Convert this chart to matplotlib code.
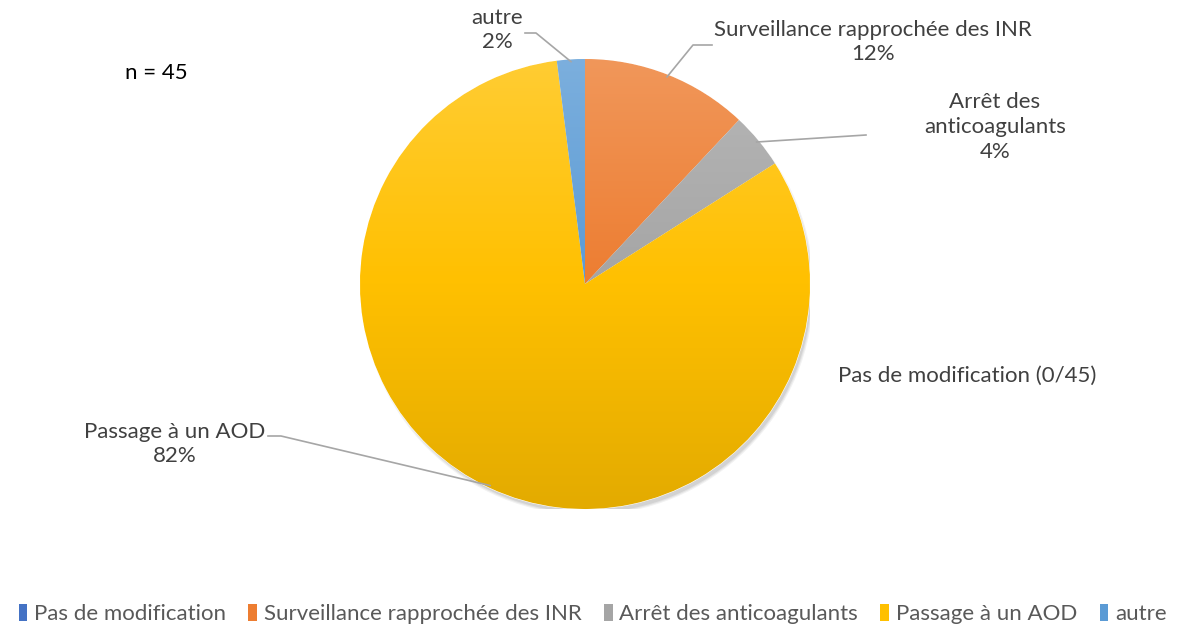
import numpy as np
import matplotlib
matplotlib.use("Agg")
import matplotlib.pyplot as plt
from matplotlib.patches import Patch, Circle
from matplotlib.colors import to_rgb

plt.rcParams['font.family'] = ['Lato', 'DejaVu Sans']

categories = ["Pas de modification", "Surveillance rapprochée des INR",
              "Arrêt des anticoagulants", "Passage à un AOD", "autre"]
percents = [0, 12, 4, 82, 2]
slice_labels = ["Pas de modification (0/45)", "Surveillance rapprochée des INR\n12%",
                "Arrêt des\nanticoagulants\n4%", "Passage à un AOD\n82%", "autre\n2%"]
colors = ["#4472C4", "#ED7D31", "#A5A5A5", "#FFC000", "#5B9BD5"]
n_text = "n = 45"

W, H = 1183, 629
fig = plt.figure(figsize=(W / 100, H / 100), dpi=100)
fig.patch.set_facecolor("white")

cx, cy, R = 585, 284, 225
ax = fig.add_axes([(cx - R) / W, (H - cy - R) / H, 2 * R / W, 2 * R / H])

def px(x, y):
    return ((x - cx) / R, (cy - y) / R)

# soft shadow
for k, a in [(1.0, 0.05), (0.995, 0.06), (0.99, 0.07)]:
    ax.add_patch(Circle((0.012, -0.022), k * 1.005, color="black", alpha=a, lw=0, zorder=0))

wedges, _ = ax.pie(percents, colors=colors, startangle=90, counterclock=False,
                   radius=1, wedgeprops=dict(linewidth=0.8, edgecolor="white"))

# gradient fill (lighter top, base middle, darker bottom)
yy = np.linspace(1, -1, 256)
for w, c in zip(wedges, colors):
    base = np.array(to_rgb(c))
    top = base + (1 - base) * 0.2
    bot = base * 0.89
    rows = []
    for y in yy:
        if y >= 0:
            t = y
            rows.append(base * (1 - t) + top * t)
        else:
            t = -y
            rows.append(base * (1 - t) + bot * t)
    grad = np.array(rows)[:, None, :]
    grad = np.repeat(grad, 4, axis=1)
    im = ax.imshow(grad, extent=(-1, 1, -1, 1), origin="upper", zorder=w.get_zorder() + 0.1,
                   interpolation="bilinear")
    im.set_clip_path(w)
ax.set_xlim(-1, 1)
ax.set_ylim(-1, 1)
ax.set_aspect("equal")
ax.axis("off")

# wedge mid angles
angles = []
start = 90.0
for p in percents:
    sweep = p / 100 * 360
    angles.append(np.deg2rad(start - sweep / 2))
    start -= sweep

txtc = "#404040"
lc = "#A6A6A6"
fs = 16
label_spec = {
    1: dict(text=(873, 42), path=[(712, 45), (693, 45)]),
    2: dict(text=(995, 127), path=[(866, 135)]),
    3: dict(text=(175, 444), path=[(268, 436), (281, 436)]),
    4: dict(text=(497, 30), path=[(525, 33), (536, 33)]),
}
for i, spec in label_spec.items():
    tx, ty = px(*spec["text"])
    ax.text(tx, ty, slice_labels[i], ha="center", va="center", fontsize=fs, color=txtc,
            linespacing=1.3, clip_on=False)
    pts = [px(*p) for p in spec["path"]]
    a = angles[i]
    pts.append((0.99 * np.cos(a), 0.99 * np.sin(a)))
    xs, ys = zip(*pts)
    ax.plot(xs, ys, color=lc, lw=1.2, clip_on=False, zorder=5)

tx, ty = px(838, 376)
ax.text(tx, ty, slice_labels[0], ha="left", va="center", fontsize=fs, color=txtc, clip_on=False)

fig.text(125 / W, 1 - 73 / H, n_text, ha="left", va="center", fontsize=fs, color="black")

handles = [Patch(facecolor=c, edgecolor="none") for c in colors]
fig.legend(handles, categories, loc="center", bbox_to_anchor=(0.501, 1 - 614 / H), ncol=5,
           frameon=False, fontsize=fs, handlelength=0.4, handleheight=0.8,
           handletextpad=0.3, columnspacing=1.0, labelcolor="#595959")

fig.savefig("out.png", dpi=100)
